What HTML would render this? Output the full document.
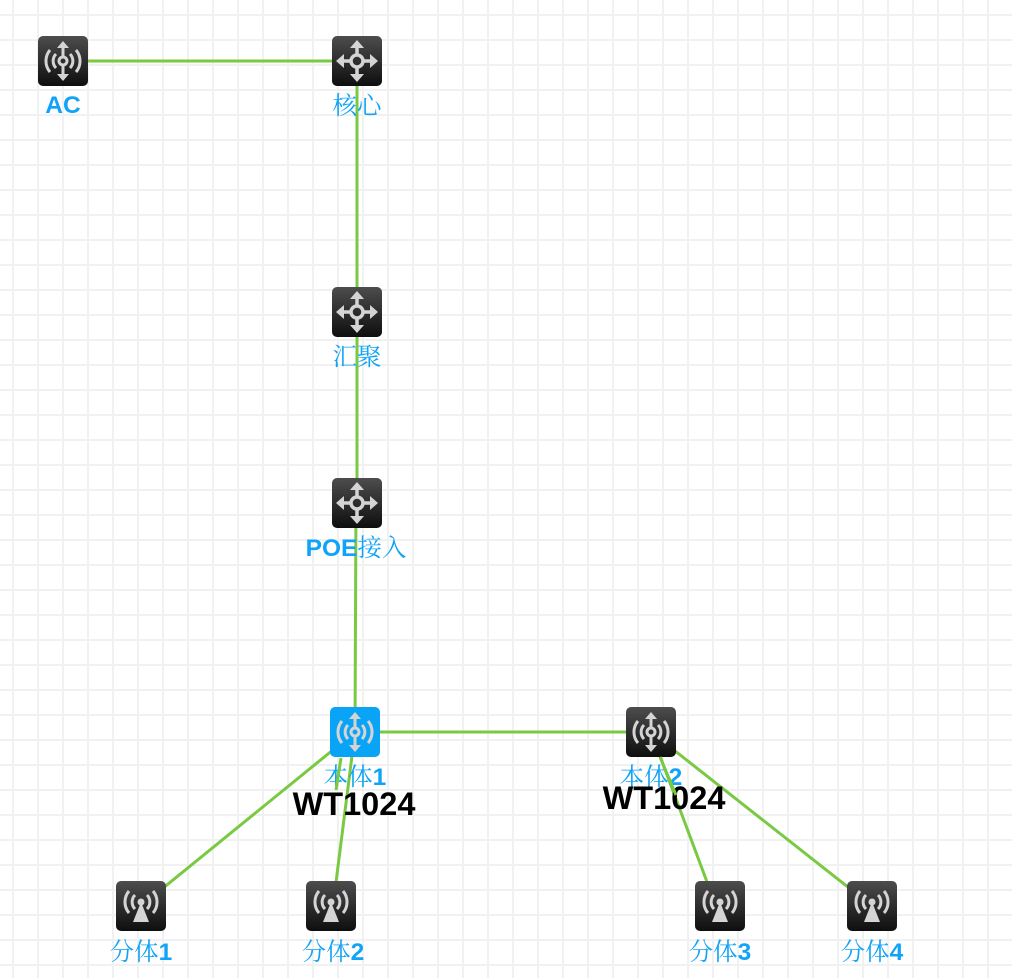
<!DOCTYPE html>
<html><head><meta charset="utf-8"><style>
html,body{margin:0;padding:0;background:#fff;}
svg{display:block;}
.l{font-family:"Liberation Sans","Noto Serif CJK SC",serif;font-size:24.5px;fill:#11a3f5;text-anchor:middle;}
.b{font-weight:bold;}
.w{font-family:"Liberation Sans",sans-serif;font-weight:bold;font-size:32.5px;fill:#000;text-anchor:middle;}
</style></head><body>
<svg width="1012" height="978" viewBox="0 0 1012 978" xmlns="http://www.w3.org/2000/svg">
<defs>
<pattern id="g" x="12" y="14" width="25" height="25" patternUnits="userSpaceOnUse">
<rect x="0" y="0" width="2" height="25" fill="#f1f1f1"/>
<rect x="0" y="0" width="25" height="2" fill="#f1f1f1"/>
</pattern>
<linearGradient id="dk" x1="0" y1="0" x2="0" y2="1"><stop offset="0" stop-color="#4d4d4d"/><stop offset="1" stop-color="#0e0e0e"/></linearGradient>
<g id="sw">
<rect x="0" y="0" width="50" height="50" rx="5" fill="url(#dk)"/>
<g stroke="#d4d4d4" stroke-width="3.5" fill="none">
<circle cx="25" cy="25" r="6"/>
<path d="M25 19V9M25 31V41M19 25H9M31 25H41"/>
</g>
<g fill="#d4d4d4"><path d="M25 4l7 8h-14z M25 46l7-8h-14z M4 25l8 7v-14z M46 25l-8 7v-14z"/></g>
</g>
<g id="acb">
<g stroke="#d4d4d4" stroke-width="3" fill="none">
<circle cx="25" cy="25" r="4"/>
<path d="M25 21V11M25 29V39"/>
<path d="M18 18a10 10 0 0 0 0 14M32 18a10 10 0 0 1 0 14M12 14a17 17 0 0 0 0 22M38 14a17 17 0 0 1 0 22"/>
</g>
<g fill="#d4d4d4"><path d="M25 5l6 7h-12z M25 45l6-7h-12z"/></g>
</g>
<g id="ac"><rect x="0" y="0" width="50" height="50" rx="5" fill="url(#dk)"/><use href="#acb"/></g>
<g id="acblue"><rect x="0" y="0" width="50" height="50" rx="5" fill="#0aa4f6"/><use href="#acb"/></g>
<g id="ap">
<rect x="0" y="0" width="50" height="50" rx="5" fill="url(#dk)"/>
<g stroke="#d4d4d4" stroke-width="3" fill="none">
<path d="M19 14a10 10 0 0 0 0 14M31 14a10 10 0 0 1 0 14M13 10a17 17 0 0 0 0 22M37 10a17 17 0 0 1 0 22"/>
</g>
<circle cx="25" cy="21" r="3.5" fill="#d4d4d4"/>
<path d="M25 21l8 20h-16z" fill="#d4d4d4"/>
</g>
</defs>
<rect width="1012" height="978" fill="url(#g)"/>
<g stroke="#7ac943" stroke-width="3" fill="none">
<path d="M63 61H357"/>
<path d="M357 61V312V503"/>
<path d="M356 503L355 732"/>
<path d="M355 732H651"/>
<path d="M355 732L141 906"/>
<path d="M355 732L333 906"/>
<path d="M651 732L716 906"/>
<path d="M651 732L872 906"/>
</g>
<use href="#ac" x="38" y="36"/>
<use href="#sw" x="332" y="36"/>
<use href="#sw" x="332" y="287"/>
<use href="#sw" x="332" y="478"/>
<use href="#acblue" x="330" y="707"/>
<use href="#ac" x="626" y="707"/>
<use href="#ap" x="116" y="881"/>
<use href="#ap" x="306" y="881"/>
<use href="#ap" x="695" y="881"/>
<use href="#ap" x="847" y="881"/>
<text class="l b" x="63" y="113">AC</text>
<text class="l" x="357" y="114">核心</text>
<text class="l" x="357" y="365">汇聚</text>
<text class="l" x="356" y="556"><tspan class="b">POE</tspan>接入</text>
<text class="l" x="355" y="785">本体<tspan class="b">1</tspan></text>
<text class="l" x="651" y="785">本体<tspan class="b">2</tspan></text>
<text class="l" x="141" y="960">分体<tspan class="b">1</tspan></text>
<text class="l" x="333" y="960">分体<tspan class="b">2</tspan></text>
<text class="l" x="720" y="960">分体<tspan class="b">3</tspan></text>
<text class="l" x="872" y="960">分体<tspan class="b">4</tspan></text>
<text class="w" x="354" y="815">WT1024</text>
<text class="w" x="664" y="809">WT1024</text>
<g stroke="#7ac943" stroke-width="3" fill="none">
<path d="M341 758L336 790"/>
<path d="M660 757L676 795"/>
</g>
</svg>
</body></html>
